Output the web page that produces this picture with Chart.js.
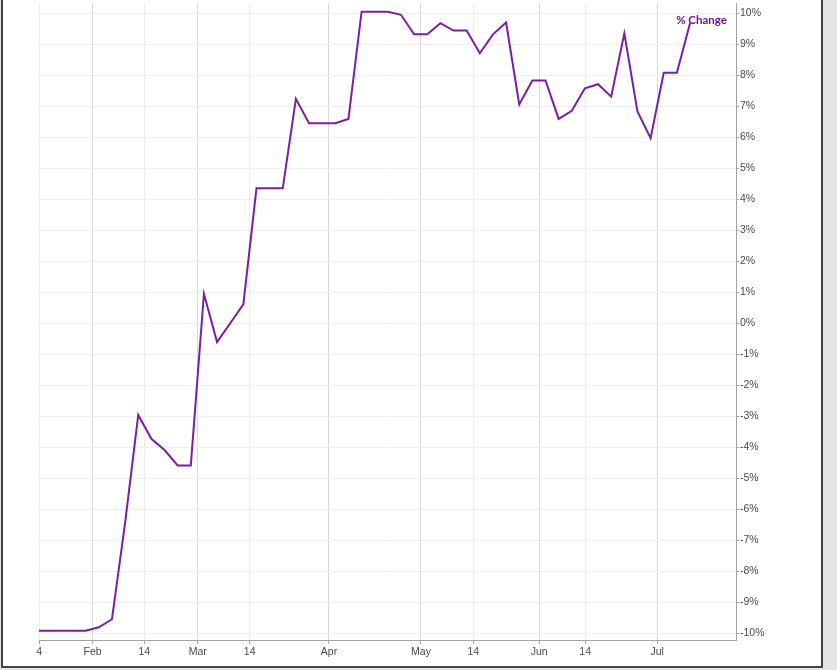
<!DOCTYPE html>
<html>
<head>
<meta charset="utf-8">
<title>% Change</title>
<script src="https://cdn.jsdelivr.net/npm/chart.js@4.4.1/dist/chart.umd.min.js"></script>
<style>
    html, body { margin: 0; padding: 0; background: #e5e5e5; width: 837px; height: 670px; overflow: hidden; }
    #panel { position: absolute; left: 1px; top: -5px; width: 822px; height: 673px; box-sizing: border-box; border: 2px solid #444; background: #fff; }
    #myChart01 { position: absolute; left: 0; top: 0; }
</style>
</head>
<body>
<div id="panel"></div>
<canvas id="myChart01" width="837" height="670"></canvas>
<script>
// % de cambio, un valor por punto (indice 0..50)
const valores = [
    -9.92, -9.92, -9.92, -9.92, -9.92, -9.81, -9.55, -6.44, -2.96, -3.73,
    -4.09, -4.59, -4.59, 0.95, -0.61, 0.00, 0.61, 4.35, 4.35, 4.35,
    7.24, 6.45, 6.45, 6.45, 6.59, 10.05, 10.05, 10.05, 9.95, 9.32,
    9.32, 9.68, 9.44, 9.44, 8.71, 9.32, 9.70, 7.06, 7.83, 7.83,
    6.59, 6.85, 7.58, 7.71, 7.31, 9.35, 6.83, 5.97, 8.08, 8.08,
    9.68
];

// marcas del eje x: posicion (en indice de punto) y texto
const posTicksX = [0.46, 4.53, 8.46, 12.53, 16.48, 22.52, 29.52, 33.50, 38.52, 42.02, 47.50];
const etiquetasX = ['4', 'Feb', '14', 'Mar', '14', 'Apr', 'May', '14', 'Jun', '14', 'Jul'];

// marcas del eje y (%)
const ticksY = [-10, -9, -8, -7, -6, -5, -4, -3, -2, -1, 0, 1, 2, 3, 4, 5, 6, 7, 8, 9, 10];

const nombreSerie = '% Change';
const colorLinea = '#7b1fa2';
const colorTexto = '#6a1696';
const colorEje = '#a3a3a3';
const fuenteEjes = { family: "'Liberation Sans', Arial, sans-serif", size: 10.5 };

// texto de la serie junto al ultimo punto
const etiquetaSerie = {
    id: 'etiquetaSerie',
    afterDatasetsDraw(chart) {
        const meta = chart.getDatasetMeta(0);
        const ultimo = meta.data[meta.data.length - 1];
        const ctx = chart.ctx;
        ctx.save();
        ctx.font = "bold 11.5px Lato, 'Noto Sans', sans-serif";
        ctx.fillStyle = colorTexto;
        ctx.textAlign = 'center';
        ctx.textBaseline = 'middle';
        ctx.fillText(nombreSerie, ultimo.x + 11.5, ultimo.y - 3);
        ctx.restore();
    }
};

let myChart1;
function show_grafico_01() {
    if (myChart1) myChart1.destroy();

    const grafica = document.querySelector('#myChart01');
    const puntos = valores.map((v, i) => ({ x: i, y: v }));

    myChart1 = new Chart(grafica, {
        type: 'line',
        data: {
            datasets: [{
                label: nombreSerie,
                data: puntos,
                borderColor: colorLinea,
                borderWidth: 2,
                pointRadius: 0,
                tension: 0,
                fill: false
            }]
        },
        options: {
            responsive: false,
            animation: false,
            devicePixelRatio: 1,
            layout: { padding: { left: 39, top: 3, right: 0, bottom: 0 } },
            plugins: {
                legend: { display: false },
                tooltip: { enabled: false }
            },
            scales: {
                x: {
                    type: 'linear',
                    min: 0.446,
                    max: 53.5,
                    afterBuildTicks: function (s) {
                        s.ticks = posTicksX.map(v => ({ value: v }));
                    },
                    afterFit: function (s) {
                        s.height = 30;
                        s.paddingLeft = 0;
                        s.paddingRight = 0;
                    },
                    ticks: {
                        autoSkip: false,
                        maxRotation: 0,
                        padding: 1.5,
                        color: '#4a4a4a',
                        font: fuenteEjes,
                        callback: (v, i) => etiquetasX[i]
                    },
                    grid: {
                        color: function (c) {
                            const t = etiquetasX[c.index];
                            return (t && isNaN(t)) ? '#d9d9d9' : '#ececec';
                        },
                        tickColor: colorEje,
                        tickLength: 4
                    },
                    border: { color: colorEje }
                },
                y: {
                    position: 'right',
                    min: -10.22,
                    max: 10.33,
                    afterBuildTicks: function (s) {
                        s.ticks = ticksY.map(v => ({ value: v }));
                    },
                    afterFit: function (s) {
                        s.width = 101;
                        s.paddingTop = 0;
                        s.paddingBottom = 0;
                    },
                    ticks: {
                        autoSkip: false,
                        padding: 1,
                        color: '#4a4a4a',
                        font: fuenteEjes,
                        callback: v => v + '%'
                    },
                    grid: {
                        color: '#efefef',
                        tickColor: colorEje,
                        tickLength: 3
                    },
                    border: { color: colorEje }
                }
            }
        },
        plugins: [etiquetaSerie]
    });
}

show_grafico_01();
</script>
</body>
</html>
